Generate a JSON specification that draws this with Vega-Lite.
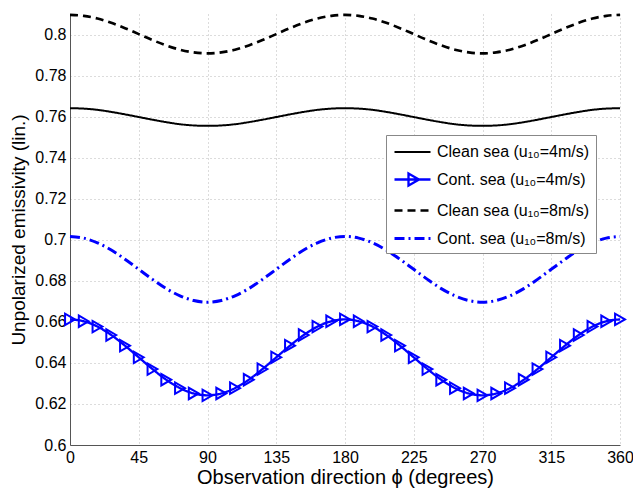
{
  "$schema": "https://vega.github.io/schema/vega-lite/v6.json",
  "width": 550,
  "height": 431,
  "autosize": "none",
  "padding": {"left": 70, "top": 14, "right": 13, "bottom": 47},
  "background": "white",
  "config": {
    "view": {"stroke": null},
    "font": "Liberation Sans",
    "axis": {
      "domainColor": "#555",
      "domainWidth": 1,
      "gridColor": "#b8b8b8",
      "gridDash": [1, 3],
      "gridWidth": 1,
      "ticks": false,
      "labelFont": "Liberation Sans",
      "labelFontSize": 16,
      "labelColor": "#000",
      "titleFont": "Liberation Sans",
      "titleFontWeight": "normal",
      "titleColor": "#000"
    }
  },
  "data": {
    "values": [
      {"phi": 0, "c4": 0.7641, "k4": 0.6612, "c8": 0.8096, "k8": 0.7016},
      {"phi": 9, "c4": 0.7639, "k4": 0.6603, "c8": 0.8091, "k8": 0.7008},
      {"phi": 18, "c4": 0.7633, "k4": 0.6577, "c8": 0.8078, "k8": 0.6985},
      {"phi": 27, "c4": 0.7623, "k4": 0.6536, "c8": 0.8057, "k8": 0.6950},
      {"phi": 36, "c4": 0.7611, "k4": 0.6484, "c8": 0.8031, "k8": 0.6905},
      {"phi": 45, "c4": 0.7598, "k4": 0.6427, "c8": 0.8002, "k8": 0.6856},
      {"phi": 54, "c4": 0.7585, "k4": 0.6370, "c8": 0.7973, "k8": 0.6807},
      {"phi": 63, "c4": 0.7573, "k4": 0.6318, "c8": 0.7947, "k8": 0.6762},
      {"phi": 72, "c4": 0.7563, "k4": 0.6277, "c8": 0.7926, "k8": 0.6727},
      {"phi": 81, "c4": 0.7557, "k4": 0.6251, "c8": 0.7913, "k8": 0.6704},
      {"phi": 90, "c4": 0.7555, "k4": 0.6242, "c8": 0.7908, "k8": 0.6696},
      {"phi": 99, "c4": 0.7557, "k4": 0.6251, "c8": 0.7913, "k8": 0.6704},
      {"phi": 108, "c4": 0.7563, "k4": 0.6277, "c8": 0.7926, "k8": 0.6727},
      {"phi": 117, "c4": 0.7573, "k4": 0.6318, "c8": 0.7947, "k8": 0.6762},
      {"phi": 126, "c4": 0.7585, "k4": 0.6370, "c8": 0.7973, "k8": 0.6807},
      {"phi": 135, "c4": 0.7598, "k4": 0.6427, "c8": 0.8002, "k8": 0.6856},
      {"phi": 144, "c4": 0.7611, "k4": 0.6484, "c8": 0.8031, "k8": 0.6905},
      {"phi": 153, "c4": 0.7623, "k4": 0.6536, "c8": 0.8057, "k8": 0.6950},
      {"phi": 162, "c4": 0.7633, "k4": 0.6577, "c8": 0.8078, "k8": 0.6985},
      {"phi": 171, "c4": 0.7639, "k4": 0.6603, "c8": 0.8091, "k8": 0.7008},
      {"phi": 180, "c4": 0.7641, "k4": 0.6612, "c8": 0.8096, "k8": 0.7016},
      {"phi": 189, "c4": 0.7639, "k4": 0.6603, "c8": 0.8091, "k8": 0.7008},
      {"phi": 198, "c4": 0.7633, "k4": 0.6577, "c8": 0.8078, "k8": 0.6985},
      {"phi": 207, "c4": 0.7623, "k4": 0.6536, "c8": 0.8057, "k8": 0.6950},
      {"phi": 216, "c4": 0.7611, "k4": 0.6484, "c8": 0.8031, "k8": 0.6905},
      {"phi": 225, "c4": 0.7598, "k4": 0.6427, "c8": 0.8002, "k8": 0.6856},
      {"phi": 234, "c4": 0.7585, "k4": 0.6370, "c8": 0.7973, "k8": 0.6807},
      {"phi": 243, "c4": 0.7573, "k4": 0.6318, "c8": 0.7947, "k8": 0.6762},
      {"phi": 252, "c4": 0.7563, "k4": 0.6277, "c8": 0.7926, "k8": 0.6727},
      {"phi": 261, "c4": 0.7557, "k4": 0.6251, "c8": 0.7913, "k8": 0.6704},
      {"phi": 270, "c4": 0.7555, "k4": 0.6242, "c8": 0.7908, "k8": 0.6696},
      {"phi": 279, "c4": 0.7557, "k4": 0.6251, "c8": 0.7913, "k8": 0.6704},
      {"phi": 288, "c4": 0.7563, "k4": 0.6277, "c8": 0.7926, "k8": 0.6727},
      {"phi": 297, "c4": 0.7573, "k4": 0.6318, "c8": 0.7947, "k8": 0.6762},
      {"phi": 306, "c4": 0.7585, "k4": 0.6370, "c8": 0.7973, "k8": 0.6807},
      {"phi": 315, "c4": 0.7598, "k4": 0.6427, "c8": 0.8002, "k8": 0.6856},
      {"phi": 324, "c4": 0.7611, "k4": 0.6484, "c8": 0.8031, "k8": 0.6905},
      {"phi": 333, "c4": 0.7623, "k4": 0.6536, "c8": 0.8057, "k8": 0.6950},
      {"phi": 342, "c4": 0.7633, "k4": 0.6577, "c8": 0.8078, "k8": 0.6985},
      {"phi": 351, "c4": 0.7639, "k4": 0.6603, "c8": 0.8091, "k8": 0.7008},
      {"phi": 360, "c4": 0.7641, "k4": 0.6612, "c8": 0.8096, "k8": 0.7016}
    ]
  },
  "transform": [{"fold": ["c4", "k4", "c8", "k8"], "as": ["series", "value"]}],
  "encoding": {
    "x": {
      "field": "phi",
      "type": "quantitative",
      "scale": {"domain": [0, 360], "nice": false, "zero": false},
      "axis": {
        "values": [0, 45, 90, 135, 180, 225, 270, 315, 360],
        "title": "Observation direction ϕ (degrees)",
        "titleFontSize": 20,
        "titlePadding": 2,
        "labelPadding": 4,
        "labelFlush": false
      }
    },
    "y": {
      "field": "value",
      "type": "quantitative",
      "scale": {"domain": [0.6, 0.81], "nice": false, "zero": false},
      "axis": {
        "values": [0.6, 0.62, 0.64, 0.66, 0.68, 0.7, 0.72, 0.74, 0.76, 0.78, 0.8],
        "format": "~g",
        "title": "Unpolarized emissivity (lin.)",
        "titleFontSize": 19,
        "titlePadding": 6,
        "labelPadding": 4
      }
    }
  },
  "layer": [
    {
      "mark": {"type": "line", "interpolate": "monotone"},
      "encoding": {
        "color": {
          "field": "series",
          "type": "nominal",
          "scale": {"domain": ["c4", "k4", "c8", "k8"], "range": ["#000000", "#0000ff", "#000000", "#0000ff"]},
          "legend": {
            "title": null,
            "orient": "none",
            "legendX": 316,
            "legendY": 121,
            "strokeColor": "#888",
            "fillColor": "white",
            "padding": 6,
            "labelFont": "Liberation Sans",
            "labelFontSize": 16,
            "labelColor": "#000",
            "labelLimit": 300,
            "labelOffset": 13,
            "symbolOffset": 9,
            "symbolSize": 400,
            "symbolStrokeWidth": 2,
            "rowPadding": 8,
            "labelExpr": "datum.value == 'c4' ? 'Clean sea (u₁₀=4m/s)' : datum.value == 'k4' ? 'Cont. sea (u₁₀=4m/s)' : datum.value == 'c8' ? 'Clean sea (u₁₀=8m/s)' : 'Cont. sea (u₁₀=8m/s)'",
            "encode": {
              "symbols": {
                "update": {
                  "shape": {"signal": "datum.value == 'k4' ? 'M-1.8,0H1.8M-0.4,-0.6L0.65,0L-0.4,0.6Z' : 'M-1.8,0H1.8'"}
                }
              }
            }
          }
        },
        "strokeDash": {
          "field": "series",
          "type": "nominal",
          "scale": {"domain": ["c4", "k4", "c8", "k8"], "range": [[1, 0], [1, 0], [8, 5], [10, 4, 2, 4]]},
          "legend": {"title": null}
        },
        "strokeWidth": {
          "field": "series",
          "type": "nominal",
          "scale": {"domain": ["c4", "k4", "c8", "k8"], "range": [2, 3, 2, 2]},
          "legend": null
        }
      }
    },
    {
      "transform": [{"filter": "datum.series == 'k4'"}],
      "mark": {"type": "point", "shape": "triangle-right", "filled": false, "color": "#0000ff", "size": 130, "strokeWidth": 2, "opacity": 1},
      "encoding": {}
    }
  ]
}
